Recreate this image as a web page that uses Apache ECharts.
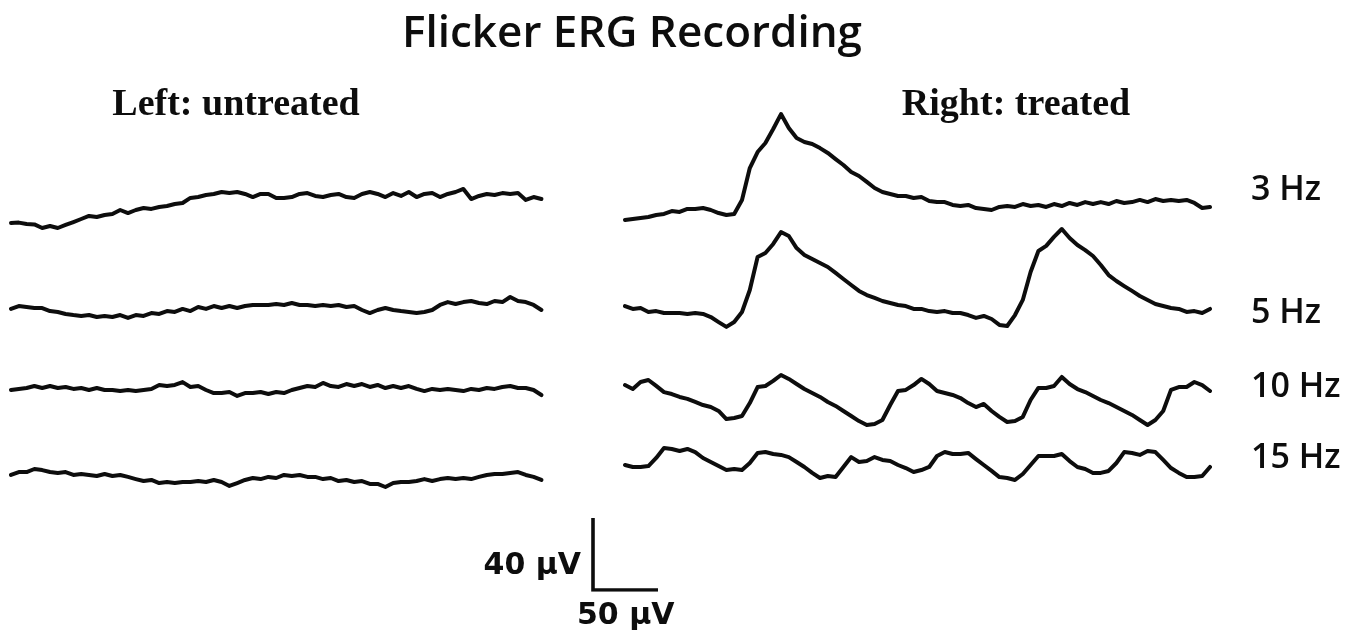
<!DOCTYPE html>
<html>
<head>
<meta charset="utf-8">
<script src="https://cdn.jsdelivr.net/npm/echarts@6/dist/echarts.min.js"></script>
<style>
html,body{margin:0;padding:0;background:#fff;}
#chart{width:1368px;height:639px;}
</style>
</head>
<body>
<div id="chart"></div>
<script>
// ---- data (µV, sampled every STEP_MS ms) ----
var STEP_MS = 6;
var HZ_LABELS = ['3 Hz', '5 Hz', '10 Hz', '15 Hz'];
var PANEL_LABELS = ['Left: untreated', 'Right: treated'];
var SCALE_MS = 50;   // horizontal scale bar
var SCALE_UV = 40;   // vertical scale bar

var left3 = [-7.2,-7.0,-7.8,-8.0,-10,-8.9,-10,-8.3,-6.7,-5,-3.3,-3.9,-2.8,-2.2,0,-1.7,0,1.1,0.6,1.7,2.2,3.3,3.9,6.7,7.2,8.3,8.9,10,9.4,10,8.9,7.2,8.9,8.9,6.7,6.7,7.2,8.9,9.4,7.8,7.2,8.3,8.9,7.2,6.7,8.9,10,8.9,7.2,9.4,7.8,10,7.2,8.9,9.4,7.2,8.9,10,11.7,6.1,7.8,8.9,8.3,9.4,8.9,9.4,5.6,7.2,6.1];
var left5 = [0.6,2.2,1.7,1.1,1.1,-0.6,-1.1,-2.2,-2.8,-3.3,-2.8,-3.9,-3.3,-3.9,-2.8,-4.4,-2.8,-3.3,-1.7,-2.2,-0.6,-1.1,0.6,-0.6,1.7,0.6,2.2,1.1,2.2,1.1,2.2,2.8,2.8,2.8,3.3,2.8,3.9,2.8,2.8,2.2,2.8,2.2,2.8,1.7,2.2,0,-1.7,0,1.1,0,-0.6,-1.1,-1.7,-1.1,0,2.8,4.4,3.3,4.4,5,3.9,3.3,5,4.4,7.2,5,4.4,2.8,0];
var left10 = [0,0.6,1.1,2.2,1.1,2.2,1.1,1.7,0.6,1.1,0,1.1,0,0,-0.6,0,-0.6,0,0.6,2.8,2.2,2.8,4.4,1.7,2.2,0,-1.7,-1.7,-1.1,-3.3,-1.7,-1.7,-1.1,-2.2,-1.1,-1.7,0,1.1,2.2,1.7,3.9,2.2,1.7,3.3,2.2,3.3,1.7,2.8,1.1,2.2,1.1,2.2,0.6,-0.6,0.6,0,0.6,0,-0.6,0.6,0,1.1,0.6,1.7,2.2,1.1,1.1,0,-2.8];
var left15 = [1.7,3.3,3.3,5,4.4,3.3,2.8,3.3,1.7,2.2,1.7,1.1,2.2,1.1,1.7,0.6,-0.6,-1.7,-1.1,-2.8,-2.2,-2.8,-2.2,-2.2,-1.7,-2.2,-1.1,-2.2,-4.4,-2.8,-1.1,0,-0.6,0.6,0,1.7,1.1,1.7,0.6,0.6,-0.6,0,-1.7,-1.1,-2.2,-1.7,-3.3,-3.3,-5,-2.8,-2.2,-2.2,-1.7,-0.6,-1.7,-0.6,0,-0.6,0,-0.6,0.6,1.7,2.2,2.2,2.8,3.3,1.7,0.6,-1.1];

var right3 = [-5.6,-5,-4.4,-3.9,-2.8,-2.2,-0.6,-1.1,0.6,0.6,1.1,0,-1.7,-2.8,-2.2,5.6,23.3,32.2,37.2,45,53.3,45.6,40,37.8,36.7,34.4,31.7,28.3,25,21.1,18.9,15.6,12.2,10,8.9,7.8,7.8,6.7,7.2,5,4.4,4.4,2.8,2.2,2.8,1.1,0.6,0,1.7,2.2,1.7,3.3,2.2,2.8,1.7,3.3,2.2,3.9,2.8,4.4,3.3,4.4,3.3,5,3.9,4.4,5.6,4.4,6.1,5,5.6,5,5.6,3.9,1.1,1.7];
var right5 = [2.2,0.6,1.1,-1.1,-0.6,-1.7,-1.7,-1.7,-2.2,-1.7,-2.2,-3.9,-6.7,-9.4,-6.7,-1.1,11.1,29.4,31.7,36.7,43.3,41.1,34.4,30.6,28.3,26.1,23.9,20.6,17.2,13.9,10.6,8.3,6.7,5,3.9,2.8,2.2,0.6,0.6,-0.6,-1.1,-0.6,-1.7,-1.7,-2.8,-4.4,-3.3,-5,-8.3,-8.9,-2.8,5.6,21.1,32.8,35.6,40.6,45,40,36.1,33.3,30,25,19.4,16.1,13.3,10.6,7.8,5.6,3.3,2.2,1.1,0.6,-1.1,-0.6,-1.7,0.6];
var right10 = [8.3,6.1,10,11.1,7.8,4.4,3.3,1.7,0.6,-1.1,-2.8,-3.9,-6.1,-10.6,-10,-8.9,-1.7,7.2,7.8,10.6,13.9,11.7,8.9,6.1,3.9,1.7,-1.1,-3.3,-6.1,-8.9,-11.7,-13.9,-13.3,-11.1,-2.8,5,5.6,8.3,11.7,8.9,5,3.9,2.8,1.1,-1.7,-3.9,-2.2,-6.1,-9.4,-12.2,-11.7,-9.4,0,6.7,6.7,7.8,12.8,8.9,6.1,4.4,2.2,0,-1.7,-3.9,-6.1,-8.3,-11.1,-13.9,-11.1,-6.1,5.6,7.2,7.2,10,8.3,5];
var right15 = [0,-1.1,-1.1,-0.6,3.9,9.4,8.9,7.8,8.9,7.2,3.9,1.7,-0.6,-2.8,-2.2,-2.8,1.1,6.7,7.2,6.1,5.6,4.4,1.7,-1.1,-4.4,-7.2,-6.1,-6.7,-1.1,4.4,1.7,2.2,4.4,2.8,2.2,0,-1.7,-3.9,-2.8,-1.1,5,7.2,6.1,6.1,6.7,3.3,0,-3.3,-6.7,-7.2,-8.3,-5,0,5,5,5,6.1,2.2,-1.1,-2.2,-4.4,-4.4,-3.3,1.1,7.2,6.7,5.6,7.8,7.2,2.8,-1.7,-4.4,-6.7,-6.7,-6.1,-1.1];

// ---- layout ----
var PX_PER_MS = 1.3, PX_PER_UV = 1.8;
var Y_MIN = -40, Y_MAX = 80;
var traces = [
  {data: left3,  left: 11,  zero: 210},
  {data: left5,  left: 11,  zero: 310},
  {data: left10, left: 11,  zero: 390},
  {data: left15, left: 11,  zero: 478},
  {data: right3, left: 625, zero: 210},
  {data: right5, left: 625, zero: 310},
  {data: right10,left: 625, zero: 400},
  {data: right15,left: 625, zero: 465}
];

var grids = [], xAxes = [], yAxes = [], series = [];
traces.forEach(function (t, i) {
  var dur = (t.data.length - 1) * STEP_MS;
  grids.push({left: t.left, top: t.zero - Y_MAX * PX_PER_UV,
              width: dur * PX_PER_MS, height: (Y_MAX - Y_MIN) * PX_PER_UV});
  xAxes.push({type: 'value', gridIndex: i, min: 0, max: dur, show: false});
  yAxes.push({type: 'value', gridIndex: i, min: Y_MIN, max: Y_MAX, show: false});
  series.push({
    type: 'line', xAxisIndex: i, yAxisIndex: i, showSymbol: false, silent: true,
    data: t.data.map(function (v, k) { return [k * STEP_MS, v]; }),
    lineStyle: {color: '#0d0d0d', width: 4, cap: 'round', join: 'round'},
    animation: false
  });
});
// scale bar grid
var sbi = grids.length;
grids.push({left: 593, top: 518, width: SCALE_MS * PX_PER_MS, height: SCALE_UV * PX_PER_UV});
xAxes.push({type: 'value', gridIndex: sbi, min: 0, max: SCALE_MS, show: false});
yAxes.push({type: 'value', gridIndex: sbi, min: 0, max: SCALE_UV, show: false});
series.push({
  type: 'line', xAxisIndex: sbi, yAxisIndex: sbi, showSymbol: false, silent: true,
  data: [[0, SCALE_UV], [0, 0], [SCALE_MS, 0]],
  lineStyle: {color: '#0d0d0d', width: 3.6, join: 'miter'}, animation: false
});

function txt(text, x, y, font, align) {
  return {type: 'text', x: x, y: y, silent: true,
    style: {text: text, fill: '#0d0d0d', font: font, textAlign: align || 'left', textVerticalAlign: 'middle'}};
}
var sans = '"Open Sans", sans-serif';
var graphics = [
  txt('Flicker ERG Recording', 632, 34, '600 44px ' + sans, 'center'),
  txt(PANEL_LABELS[0], 236, 105, 'bold 38px "Liberation Serif", serif', 'center'),
  txt(PANEL_LABELS[1], 1016, 105, 'bold 38px "Liberation Serif", serif', 'center'),
  txt(HZ_LABELS[0], 1251, 190, '600 34px ' + sans),
  txt(HZ_LABELS[1], 1251, 313, '600 34px ' + sans),
  txt(HZ_LABELS[2], 1251, 387, '600 34px ' + sans),
  txt(HZ_LABELS[3], 1251, 458, '600 34px ' + sans),
  txt(SCALE_UV + ' \u00b5V', 581, 566, 'bold 30px "DejaVu Sans", sans-serif', 'right'),
  txt(SCALE_MS + ' \u00b5V', 577, 616, 'bold 30px "DejaVu Sans", sans-serif', 'left')
];

var chart = echarts.init(document.getElementById('chart'), null, {renderer: 'canvas'});
chart.setOption({
  backgroundColor: '#fff',
  animation: false,
  grid: grids, xAxis: xAxes, yAxis: yAxes, series: series,
  graphic: graphics
});
</script>
</body>
</html>
